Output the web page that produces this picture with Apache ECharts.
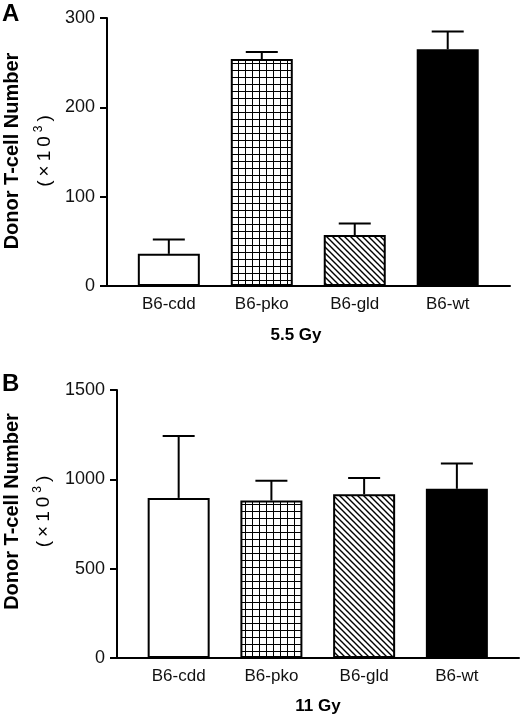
<!DOCTYPE html>
<html>
<head>
<meta charset="utf-8">
<script src="https://cdn.jsdelivr.net/npm/echarts@6/dist/echarts.min.js"></script>
<style>
  html, body { margin: 0; padding: 0; background: #fff; }
  #chart { width: 520px; height: 716px; }
</style>
</head>
<body>
<div id="chart"></div>
<script>
// data
const groups = ['B6-cdd', 'B6-pko', 'B6-gld', 'B6-wt'];
const meansA = [36, 254, 57, 265];   // 5.5 Gy, x10^3 cells
const semA = [16, 8, 13, 20];
const meansB = [896, 882, 917, 947]; // 11 Gy
const semB = [346, 110, 91, 142];
const ticksA = { min: 0, max: 300, step: 100 };
const ticksB = { min: 0, max: 1500, step: 500 };

const FONT = '"Liberation Sans", Arial, Helvetica, sans-serif';

// fill patterns for the bars
function gridPattern() {
    const s = 7;
    const c = document.createElement('canvas');
    c.width = s; c.height = s;
    const g = c.getContext('2d');
    g.fillStyle = '#fff';
    g.fillRect(0, 0, s, s);
    g.fillStyle = '#000';
    g.fillRect(0, 0, s, 1);
    g.fillRect(0, 0, 1, s);
    return c;
}
function hatchPattern() {
    const s = 6;
    const c = document.createElement('canvas');
    c.width = s; c.height = s;
    const g = c.getContext('2d');
    g.fillStyle = '#fff';
    g.fillRect(0, 0, s, s);
    g.strokeStyle = '#000';
    g.lineWidth = 1.4;
    g.beginPath();
    for (const dx of [-s, 0, s]) {
        g.moveTo(dx - 1, -1);
        g.lineTo(dx + s + 1, s + 1);
    }
    g.stroke();
    return c;
}
const fills = [
    '#fff',
    { image: gridPattern(), repeat: 'repeat' },
    { image: hatchPattern(), repeat: 'repeat' },
    '#000'
];

function barData(means) {
    return means.map((v, i) => ({ value: [i, v], itemStyle: { color: fills[i] } }));
}
function errData(means, sems) {
    return means.map((v, i) => [i, v, sems[i]]);
}
function renderErr(params, api) {
    const x = api.value(0), m = api.value(1), hi = m + api.value(2);
    const p0 = api.coord([x, m]);
    const p1 = api.coord([x, hi]);
    const st = { stroke: '#000', lineWidth: 2 };
    return {
        type: 'group',
        children: [
            { type: 'line', shape: { x1: p0[0], y1: p0[1], x2: p1[0], y2: p1[1] }, style: st },
            { type: 'line', shape: { x1: p1[0] - 16, y1: p1[1], x2: p1[0] + 16, y2: p1[1] }, style: st }
        ]
    };
}

function xAxis(gridIndex, title, gap, pad) {
    return {
        type: 'value', gridIndex: gridIndex,
        min: -0.665, max: 3.67,
        axisLine: { onZero: false, lineStyle: { color: '#000', width: 2 } },
        axisTick: { show: false },
        splitLine: { show: false },
        axisLabel: {
            customValues: [0, 1, 2, 3],
            formatter: v => groups[Math.round(v)],
            color: '#111', fontFamily: FONT, fontSize: 17, margin: 10
        },
        name: title, nameLocation: 'middle', nameGap: gap,
        nameTextStyle: { color: '#000', fontFamily: FONT, fontSize: 17, fontWeight: 'bold', padding: pad }
    };
}
function yAxis(gridIndex, t, gap, pad) {
    return {
        type: 'value', gridIndex: gridIndex,
        min: t.min, max: t.max, interval: t.step,
        axisLine: { show: true, onZero: false, lineStyle: { color: '#000', width: 2 } },
        axisTick: { show: true, length: 7, lineStyle: { color: '#000', width: 2 } },
        splitLine: { show: false },
        axisLabel: { color: '#111', fontFamily: FONT, fontSize: 18, margin: 12, formatter: v => String(v) },
        name: '{big|Donor T-cell Number}\n{mid|(}{mid|×}{mid|1}{mid|0}{sup|3}{mid|)}',
        nameLocation: 'middle', nameRotate: 90, nameGap: gap,
        nameTextStyle: {
            fontFamily: FONT, fontSize: 19, color: '#000',
            padding: pad,
            rich: {
                big: { fontFamily: FONT, fontSize: 20, fontWeight: 'bold', color: '#000', lineHeight: 40 },
                mid: { fontFamily: FONT, fontSize: 19, color: '#000', lineHeight: 24, padding: [0, 2] },
                sup: { fontFamily: FONT, fontSize: 12, color: '#000', lineHeight: 10, verticalAlign: 'top', padding: [0, 2] }
            }
        }
    };
}

const chart = echarts.init(document.getElementById('chart'), null, { renderer: 'canvas' });
chart.setOption({
    animation: false,
    backgroundColor: '#fff',
    grid: [
        { left: 107, right: 10, top: 18, bottom: 430, outerBoundsMode: 'none' },
        { left: 117, right: 1, top: 390, bottom: 58, outerBoundsMode: 'none' }
    ],
    xAxis: [xAxis(0, '5.5 Gy', 41, [0, 25, 0, 0]), xAxis(1, '11 Gy', 40, [0, 0, 0, 0])],
    yAxis: [yAxis(0, ticksA, 49, [0, 0, 0, 2]), yAxis(1, ticksB, 61, [0, 0, 0, 25])],
    graphic: [
        { type: 'text', left: 2, top: 2, style: { text: 'A', font: 'bold 24px ' + FONT, fill: '#000' } },
        { type: 'text', left: 2, top: 372, style: { text: 'B', font: 'bold 24px ' + FONT, fill: '#000' } }
    ],
    series: [
        {
            type: 'bar', xAxisIndex: 0, yAxisIndex: 0, barWidth: 62,
            itemStyle: { borderColor: '#000', borderWidth: 2 },
            data: barData(meansA)
        },
        {
            type: 'custom', xAxisIndex: 0, yAxisIndex: 0,
            renderItem: renderErr, data: errData(meansA, semA), z: 3
        },
        {
            type: 'bar', xAxisIndex: 1, yAxisIndex: 1, barWidth: 62,
            itemStyle: { borderColor: '#000', borderWidth: 2 },
            data: barData(meansB)
        },
        {
            type: 'custom', xAxisIndex: 1, yAxisIndex: 1,
            renderItem: renderErr, data: errData(meansB, semB), z: 3
        }
    ]
});
</script>
</body>
</html>
